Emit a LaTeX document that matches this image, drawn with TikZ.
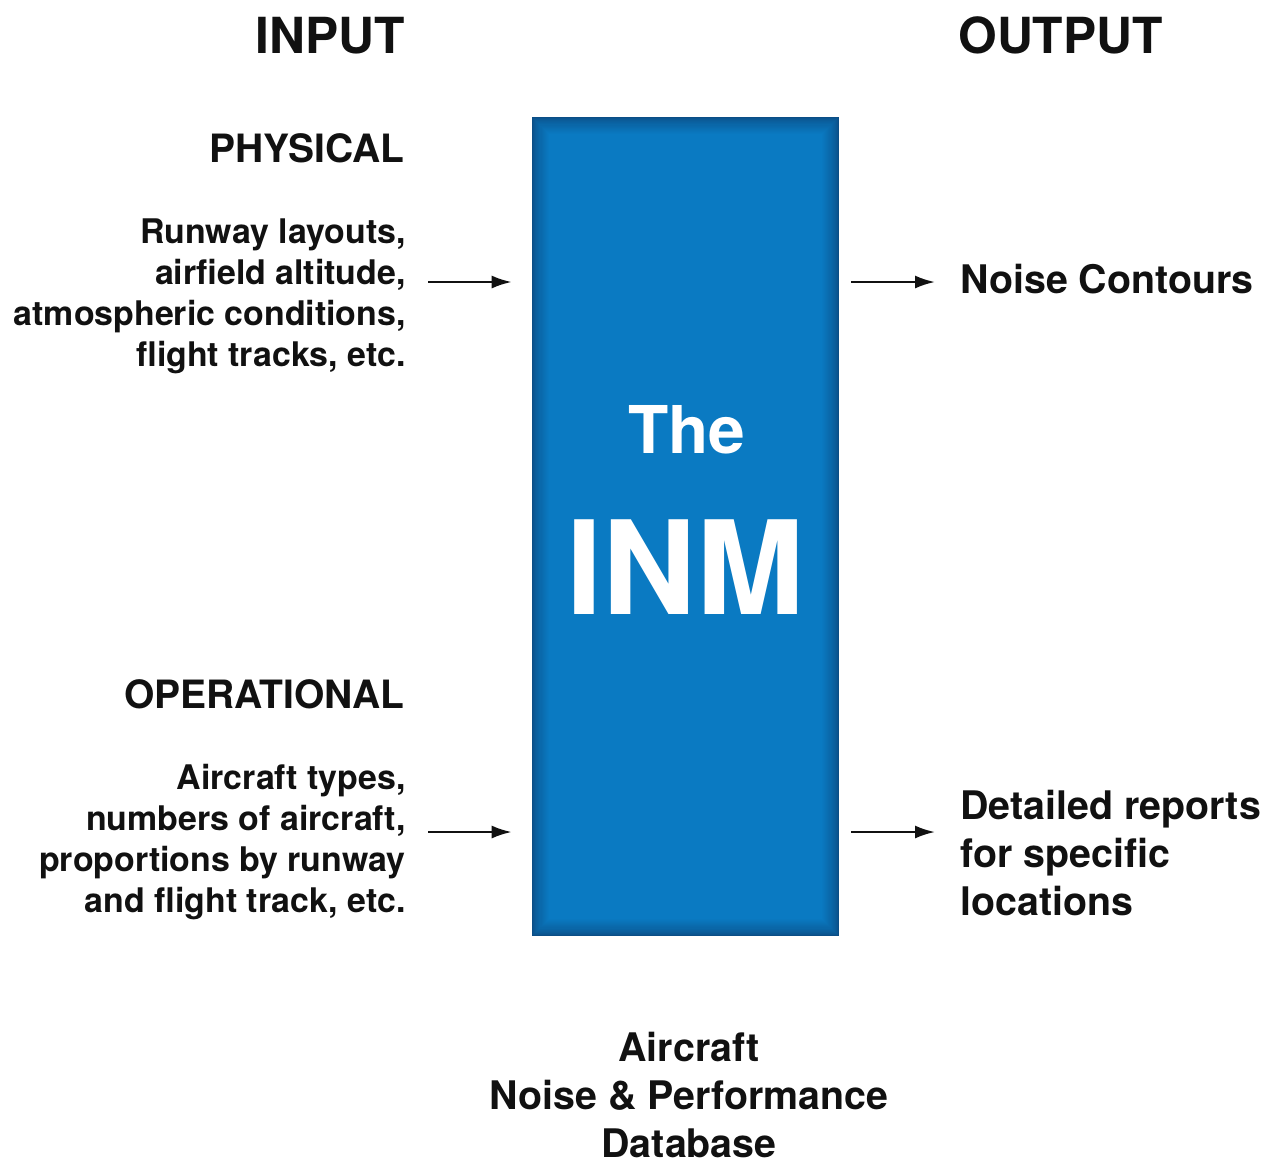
\documentclass[tikz,border=0pt]{standalone}
\usepackage{fontspec}
\setmainfont{TeX Gyre Heros}
\usepackage{xcolor}
\usepackage{tikz}
\usetikzlibrary{arrows.meta,positioning}
\definecolor{inmblue}{HTML}{0A7AC2}
\definecolor{inmdark}{HTML}{0B4E86}
\definecolor{textblack}{HTML}{111111}
\tikzset{
  heading/.style={inner sep=0pt,text=textblack,font=\bfseries\fontsize{28.3}{34}\selectfont},
  subheading/.style={inner sep=0pt,text=textblack,font=\bfseries\fontsize{22.2}{27}\selectfont},
  intext/.style={inner sep=0pt,text=textblack,align=right,font=\bfseries\fontsize{19.3}{23.3}\selectfont},
  outtext/.style={inner sep=0pt,text=textblack,align=left,font=\bfseries\fontsize{22.4}{27.3}\selectfont},
  flow/.style={-{Latex[length=0.4cm,width=0.26cm]},line width=1.3pt,textblack},
  inmbox/.style={draw=none,fill=inmdark,minimum width=6.14cm,minimum height=16.38cm,inner sep=0pt}
}
\begin{document}
\begin{tikzpicture}[x=0.02cm,y=-0.02cm]
  \useasboundingbox (0,0) rectangle (1266,1160);
  % the model box, with a darker rim
  \node[inmbox] (box) at (685.5,526.5) {};
  \foreach \i in {0,...,16}{
    \pgfmathsetmacro{\mix}{100*(\i/16)^0.7}
    \fill[inmblue!\mix!inmdark] ([shift={(1.1*\i,1.1*\i)}]box.north west) rectangle ([shift={(-1.1*\i,-1.1*\i)}]box.south east);
  }
  \node[anchor=base,inner sep=0pt,text=white,font=\bfseries\fontsize{37.5}{40}\selectfont] (the) at (687,453) {The};
  \node[anchor=base,inner sep=0pt,text=white,font=\bfseries\fontsize{74}{80}\selectfont] (inm) at (686,614) {INM};
  % headings
  \node[heading,anchor=base east] (input) at (405,53) {INPUT};
  \node[heading,anchor=base west] (output) at (958,53) {OUTPUT};
  \node[subheading,anchor=base east] (physical) at (405,162) {PHYSICAL};
  \node[subheading,anchor=base east] (operational) at (405,708) {OPERATIONAL};
  % inputs
  \node[intext,anchor=east] (phys) at (406,296) {Runway layouts,\\airfield altitude,\\atmospheric conditions,\\flight tracks, etc.};
  \node[intext,anchor=east] (oper) at (406,842) {Aircraft types,\\numbers of aircraft,\\proportions by runway\\and flight track, etc.};
  % outputs
  \node[outtext,anchor=base west] (contours) at (960,293) {Noise Contours};
  \node[outtext,anchor=west] (reports) at (960,853) {Detailed reports\\for specific\\locations};
  % database
  \node[outtext,align=center,anchor=center] (database) at (689,1095) {Aircraft\\Noise \& Performance\\Database};
  % arrows
  \coordinate (rowA) at (0,282);
  \coordinate (rowB) at (0,832);
  \draw[flow,shorten <=0.44cm,shorten >=0.4cm] (phys.east |- rowA) -- (box.west |- rowA);
  \draw[flow,shorten <=0.44cm,shorten >=0.4cm] (oper.east |- rowB) -- (box.west |- rowB);
  \draw[flow,shorten <=0.24cm,shorten >=0.5cm] (box.east |- rowA) -- (contours.west |- rowA);
  \draw[flow,shorten <=0.24cm,shorten >=0.5cm] (box.east |- rowB) -- (reports.west |- rowB);
\end{tikzpicture}
\end{document}
